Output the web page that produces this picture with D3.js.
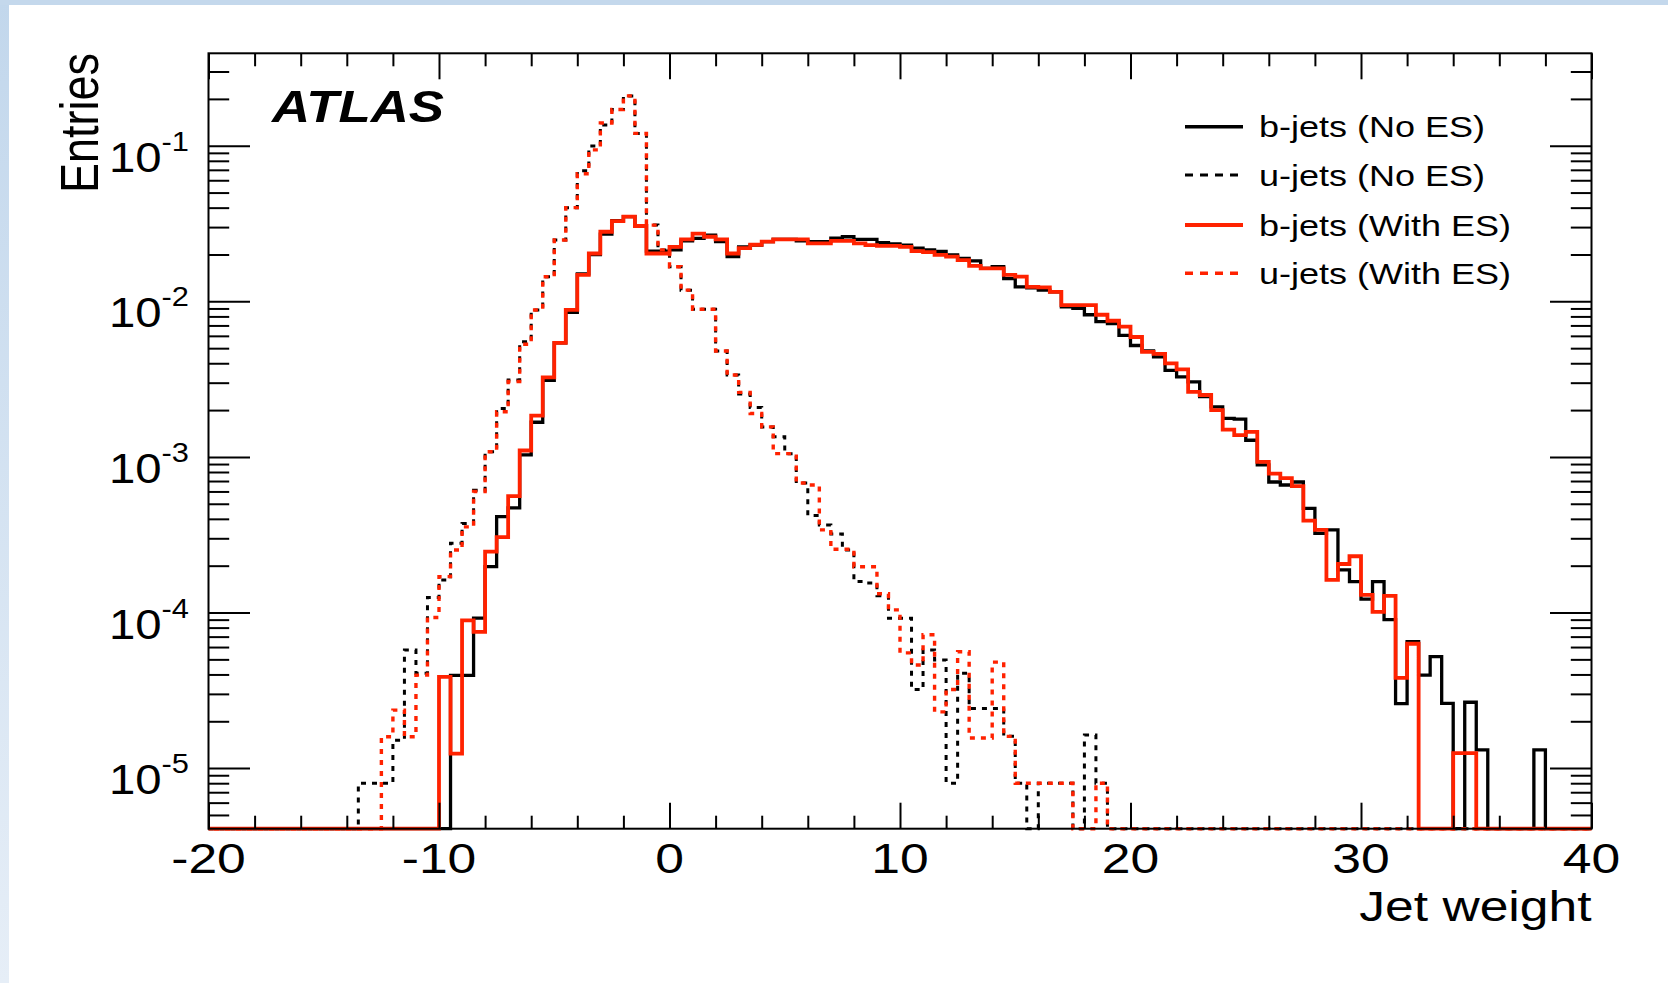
<!DOCTYPE html>
<html>
  <head>
    <title>Jet weight</title>
    <script src="https://d3js.org/d3.v7.min.js"></script>
    <style>
      body { margin: 0; background: #fff; }
      text { font-family: "Liberation Sans", Arial, Helvetica, sans-serif; }
    </style>
  </head>
  <body>
    <svg width="1668" height="983"></svg>

    <script>
      // histogram binning: 120 bins of 0.5 from -20 to 40
      const binLow = -20;
      const binWidth = 0.5;

      const bJetsNoES = [
        0, 0, 0, 0, 0, 0, 0, 0, 0, 0,
        0, 0, 0, 0, 0, 0, 0, 0, 0, 0,
        0, 3.94e-5, 3.94e-5, 9.2e-5, 1.97e-4, 4.13e-4, 4.7e-4, 1.03e-3, 1.67e-3, 3.1e-3,
        5.4e-3, 8.5e-3, 1.5e-2, 2.0e-2, 2.7e-2, 3.3e-2, 3.5e-2, 3.05e-2, 2.1e-2, 2.1e-2,
        2.14e-2, 2.45e-2, 2.54e-2, 2.66e-2, 2.42e-2, 1.94e-2, 2.24e-2, 2.3e-2, 2.42e-2, 2.5e-2,
        2.5e-2, 2.45e-2, 2.42e-2, 2.42e-2, 2.55e-2, 2.6e-2, 2.5e-2, 2.5e-2, 2.38e-2, 2.34e-2,
        2.3e-2, 2.2e-2, 2.14e-2, 2.09e-2, 1.99e-2, 1.89e-2, 1.82e-2, 1.63e-2, 1.67e-2, 1.4e-2,
        1.24e-2, 1.22e-2, 1.18e-2, 1.15e-2, 9.2e-3, 9.0e-3, 8.2e-3, 7.4e-3, 7.2e-3, 6.05e-3,
        5.2e-3, 4.8e-3, 4.4e-3, 3.6e-3, 3.27e-3, 3.04e-3, 2.44e-3, 2.1e-3, 1.77e-3, 1.75e-3,
        1.28e-3, 8.9e-4, 6.9e-4, 6.6e-4, 6.9e-4, 4.67e-4, 3.23e-4, 3.4e-4, 1.88e-4, 1.58e-4,
        1.22e-4, 1.58e-4, 9e-5, 2.6e-5, 6.5e-5, 3.96e-5, 5.2e-5, 2.61e-5, 0, 2.65e-5,
        1.31e-5, 0, 0, 0, 0, 1.31e-5, 0, 0, 0, 0
      ];

      const uJetsNoES = [
        0, 0, 0, 0, 0, 0, 0, 0, 0, 0,
        0, 0, 0, 8e-6, 8e-6, 8e-6, 1.51e-5, 5.74e-5, 4.07e-5, 1.25e-4,
        1.62e-4, 2.79e-4, 3.74e-4, 6.1e-4, 1.08e-3, 2.05e-3, 3.12e-3, 5.5e-3, 8.8e-3, 1.44e-2,
        2.48e-2, 4.0e-2, 6.9e-2, 9.96e-2, 0.136, 0.171, 0.209, 0.12, 3.09e-2, 2.14e-2,
        1.67e-2, 1.18e-2, 8.9e-3, 8.9e-3, 4.8e-3, 3.36e-3, 2.54e-3, 2.08e-3, 1.56e-3, 1.35e-3,
        1.05e-3, 6.8e-4, 4.2e-4, 3.65e-4, 3.2e-4, 2.52e-4, 1.58e-4, 1.55e-4, 1.28e-4, 9.2e-5,
        9.2e-5, 3.2e-5, 5.74e-5, 4.95e-5, 8e-6, 4.07e-5, 2.42e-5, 2.42e-5, 2.42e-5, 1.6e-5,
        8e-6, 0, 8e-6, 8e-6, 8e-6, 0, 1.63e-5, 8e-6, 0, 0,
        0, 0, 0, 0, 0, 0, 0, 0, 0, 0,
        0, 0, 0, 0, 0, 0, 0, 0, 0, 0,
        0, 0, 0, 0, 0, 0, 0, 0, 0, 0,
        0, 0, 0, 0, 0, 0, 0, 0, 0, 0
      ];

      const bJetsWithES = [
        0, 0, 0, 0, 0, 0, 0, 0, 0, 0,
        0, 0, 0, 0, 0, 0, 0, 0, 0, 0,
        3.86e-5, 1.24e-5, 8.9e-5, 7.5e-5, 2.46e-4, 3.05e-4, 5.6e-4, 1.1e-3, 1.84e-3, 3.25e-3,
        5.4e-3, 8.8e-3, 1.48e-2, 2.03e-2, 2.8e-2, 3.28e-2, 3.5e-2, 3.05e-2, 2.03e-2, 2.03e-2,
        2.24e-2, 2.5e-2, 2.72e-2, 2.6e-2, 2.5e-2, 2.03e-2, 2.2e-2, 2.31e-2, 2.42e-2, 2.5e-2,
        2.5e-2, 2.5e-2, 2.36e-2, 2.36e-2, 2.45e-2, 2.45e-2, 2.36e-2, 2.3e-2, 2.27e-2, 2.27e-2,
        2.24e-2, 2.1e-2, 2.07e-2, 1.99e-2, 1.94e-2, 1.84e-2, 1.69e-2, 1.63e-2, 1.63e-2, 1.48e-2,
        1.44e-2, 1.24e-2, 1.23e-2, 1.15e-2, 9.46e-3, 9.46e-3, 9.46e-3, 8.2e-3, 7.5e-3, 6.87e-3,
        5.9e-3, 4.74e-3, 4.6e-3, 3.99e-3, 3.65e-3, 2.62e-3, 2.5e-3, 2.0e-3, 1.5e-3, 1.38e-3,
        1.45e-3, 9.3e-4, 7.8e-4, 7.3e-4, 6.5e-4, 3.9e-4, 3.4e-4, 1.62e-4, 2.05e-4, 2.3e-4,
        1.3e-4, 1.01e-4, 1.28e-4, 3.8e-5, 6.3e-5, 0, 0, 0, 1.25e-5, 1.25e-5,
        0, 0, 0, 0, 0, 0, 0, 0, 0, 0
      ];

      const uJetsWithES = [
        0, 0, 0, 0, 0, 0, 0, 0, 0, 0,
        0, 0, 0, 0, 0, 1.59e-5, 2.36e-5, 1.59e-5, 3.96e-5, 9.3e-5,
        1.7e-4, 2.52e-4, 3.55e-4, 6.0e-4, 1.08e-3, 1.95e-3, 3.05e-3, 5.3e-3, 8.8e-3, 1.44e-2,
        2.48e-2, 4.0e-2, 6.6e-2, 9.4e-2, 0.14, 0.171, 0.209, 0.12, 3.09e-2, 2.14e-2,
        1.67e-2, 1.18e-2, 8.9e-3, 8.9e-3, 4.8e-3, 3.36e-3, 2.6e-3, 1.9e-3, 1.56e-3, 1.05e-3,
        1.05e-3, 6.8e-4, 6.6e-4, 3.4e-4, 2.55e-4, 2.55e-4, 1.97e-4, 1.97e-4, 1.32e-4, 1.04e-4,
        5.5e-5, 4.6e-5, 7.2e-5, 2.3e-5, 3.2e-5, 5.6e-5, 1.56e-5, 1.56e-5, 4.8e-5, 1.6e-5,
        8e-6, 8e-6, 8e-6, 8e-6, 8e-6, 0, 0, 8e-6, 0, 0,
        0, 0, 0, 0, 0, 0, 0, 0, 0, 0,
        0, 0, 0, 0, 0, 0, 0, 0, 0, 0,
        0, 0, 0, 0, 0, 0, 0, 0, 0, 0,
        0, 0, 0, 0, 0, 0, 0, 0, 0, 0
      ];

      const xTicks = [-20, -10, 0, 10, 20, 30, 40];
      const xMinorTicks = d3.range(-20, 41, 2).filter(t => t % 10 !== 0);
      const yDecades = [-5, -4, -3, -2, -1];
      const legendLabels = ["b-jets (No ES)", "u-jets (No ES)", "b-jets (With ES)", "u-jets (With ES)"];

      const red = "#ff2200";
      const series = [
        { values: bJetsNoES,   color: "#000", width: 3.3, dash: null },
        { values: uJetsNoES,   color: "#000", width: 3,   dash: "5,6" },
        { values: bJetsWithES, color: red,    width: 3.8, dash: null },
        { values: uJetsWithES, color: red,    width: 3.4, dash: "5,6", offset: 5.5 }
      ];

      const svg = d3.select("svg");
      const width = +svg.attr("width");
      const height = +svg.attr("height");
      const frame = { left: 208.5, right: 1591.5, top: 53.3, bottom: 828.7 };
      const sx = 1.2; // the original picture is stretched sideways

      const yMin = 4.08e-6;
      const yMax = 0.3927;

      const xScale = d3.scaleLinear().domain([-20, 40]).range([frame.left, frame.right]);
      const yScale = d3.scaleLog().domain([yMin, yMax]).range([frame.bottom, frame.top]);

      // page decoration (light blue edges)
      const grad = svg.append("defs").append("linearGradient")
          .attr("id", "edge").attr("x1", 0).attr("y1", 0).attr("x2", 0).attr("y2", 1);
      grad.append("stop").attr("offset", "0%").attr("stop-color", "#c2d7ec");
      grad.append("stop").attr("offset", "100%").attr("stop-color", "#e6eef7");
      svg.append("rect").attr("width", width).attr("height", height).attr("fill", "#fff");
      svg.append("rect").attr("width", 9).attr("height", height).attr("fill", "url(#edge)");
      svg.append("rect").attr("width", width).attr("height", 5).attr("fill", "#c4d8ec");

      // histograms
      const line = d3.line()
          .x(d => xScale(d[0]))
          .y(d => yScale(Math.max(d[1], yMin)));

      series.forEach(s => {
        const pts = [];
        s.values.forEach((v, i) => {
          const lo = binLow + i * binWidth;
          pts.push([lo, v], [lo + binWidth, v]);
        });
        svg.append("path")
            .attr("d", line(pts))
            .attr("fill", "none")
            .attr("stroke", s.color)
            .attr("stroke-width", s.width)
            .attr("stroke-dasharray", s.dash)
            .attr("stroke-dashoffset", s.offset || 0);
      });

      // frame + ticks on all four sides, pointing in
      const tickAxis = (axis, transform, values, size) => {
        const g = svg.append("g")
            .attr("transform", transform)
            .call(axis.tickValues(values).tickSize(-size).tickFormat(""));
        g.select(".domain").remove();
        g.selectAll(".tick line").attr("stroke", "#000").attr("stroke-width", 2);
      };

      const yMinor = [];
      [-6, -5, -4, -3, -2, -1].forEach(d => {
        d3.range(2, 10).forEach(m => {
          const v = m * Math.pow(10, d);
          if (v > yMin && v < yMax) yMinor.push(v);
        });
      });
      const yMajor = yDecades.map(d => Math.pow(10, d));

      tickAxis(d3.axisBottom(xScale), `translate(0,${frame.bottom})`, xTicks, 26);
      tickAxis(d3.axisBottom(xScale), `translate(0,${frame.bottom})`, xMinorTicks, 13);
      tickAxis(d3.axisTop(xScale), `translate(0,${frame.top})`, xTicks, 26);
      tickAxis(d3.axisTop(xScale), `translate(0,${frame.top})`, xMinorTicks, 13);
      tickAxis(d3.axisLeft(yScale), `translate(${frame.left},0)`, yMajor, 41.5);
      tickAxis(d3.axisLeft(yScale), `translate(${frame.left},0)`, yMinor, 20.7);
      tickAxis(d3.axisRight(yScale), `translate(${frame.right},0)`, yMajor, 41.5);
      tickAxis(d3.axisRight(yScale), `translate(${frame.right},0)`, yMinor, 20.7);

      svg.append("rect")
          .attr("x", frame.left).attr("y", frame.top)
          .attr("width", frame.right - frame.left)
          .attr("height", frame.bottom - frame.top)
          .attr("fill", "none")
          .attr("stroke", "#000")
          .attr("stroke-width", 2);

      // labels
      const stretched = (x, y, extra, scaleX) => svg.append("g")
          .attr("transform", `translate(${x},${y}) scale(${scaleX || sx},1)` + (extra || ""))
          .append("text");

      xTicks.forEach(t => {
        stretched(xScale(t), 873)
            .attr("text-anchor", "middle")
            .attr("font-size", 43)
            .text(t);
      });

      yDecades.forEach(d => {
        const t = stretched(189, yScale(Math.pow(10, d)) + 26, "", 1.1)
            .attr("text-anchor", "end")
            .attr("font-size", 43);
        t.append("tspan").text("10");
        t.append("tspan").attr("dy", -21).attr("font-size", 28).text(d);
      });

      stretched(frame.right, 921)
          .attr("text-anchor", "end")
          .attr("font-size", 43)
          .text("Jet weight");

      stretched(98, 53, " rotate(-90)")
          .attr("text-anchor", "end")
          .attr("font-size", 45)
          .text("Entries");

      stretched(272, 122)
          .attr("font-size", 44)
          .attr("font-weight", "bold")
          .attr("font-style", "italic")
          .text("ATLAS");

      // legend
      const legendY = [126.7, 175, 225, 273.3];
      const legendStyle = [
        { color: "#000", width: 3.5, dash: null },
        { color: "#000", width: 3, dash: "8,7" },
        { color: red, width: 3.8, dash: null },
        { color: red, width: 3.4, dash: "8,7" }
      ];
      legendLabels.forEach((label, i) => {
        svg.append("line")
            .attr("x1", 1185).attr("x2", 1243)
            .attr("y1", legendY[i]).attr("y2", legendY[i])
            .attr("stroke", legendStyle[i].color)
            .attr("stroke-width", legendStyle[i].width)
            .attr("stroke-dasharray", legendStyle[i].dash);
        stretched(1259, legendY[i] + 10.5)
            .attr("font-size", 30)
            .text(label);
      });
    </script>
  </body>
</html>
